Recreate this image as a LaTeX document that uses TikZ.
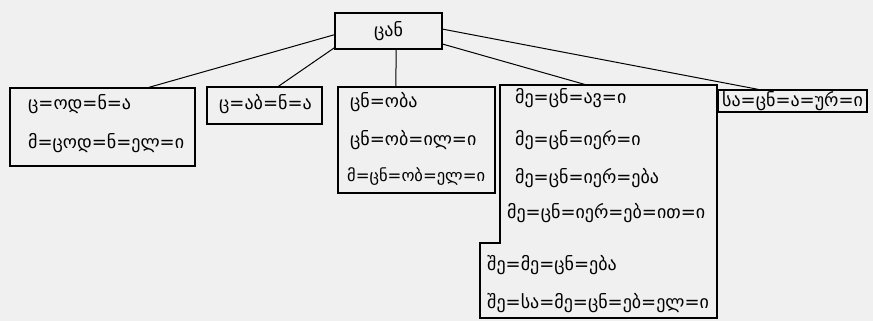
\documentclass[tikz,border=0pt]{standalone}
\usepackage{fontspec}
\setmainfont{DejaVu Sans}
\usetikzlibrary{calc}
\begin{document}
\begin{tikzpicture}[x=1pt,y=-1pt,
  box/.style={draw, line width=1.4pt, inner sep=0pt},
  link/.style={line width=1pt},
  txt/.style={anchor=west, inner sep=0pt, font=\fontsize{18}{21}\selectfont},
  narrowtxt/.style={txt, font=\fontsize{16.5}{20}\selectfont}]
\fill[black!6] (0,0) rectangle (873,321);
\useasboundingbox (0,0) rectangle (873,321);
% root
\node[box, minimum width=107pt, minimum height=36pt, font=\fontsize{18}{21}\selectfont] (root) at (388.5,31) {ცან};
% boxes
\node[box, minimum width=185pt, minimum height=78pt] (b1) at (102.5,127) {};
\node[box, minimum width=115pt, minimum height=37pt] (b2) at (264.5,105.5) {};
\node[box, minimum width=157pt, minimum height=106pt] (b3) at (416.5,140) {};
\node[box, minimum width=149pt, minimum height=22pt] (b5) at (792.5,101) {};
% box 4 outline
\coordinate (b4a) at (500,85);
\coordinate (b4b) at (717,85);
\coordinate (b4c) at (717,318);
\coordinate (b4d) at (480,318);
\coordinate (b4e) at (480,243);
\coordinate (b4f) at (500,243);
\draw[line width=1.4pt] (b4a) -- (b4b) -- (b4c) -- (b4d) -- (b4e) -- (b4f) -- cycle;
% texts
\node[txt] (t11) at (28,104) {ც=ოდ=ნ=ა};
\node[txt] (t12) at (28,143) {მ=ცოდ=ნ=ელ=ი};
\node[txt] (t21) at (219,104) {ც=აბ=ნ=ა};
\node[txt] (t31) at (350,102) {ცნ=ობა};
\node[txt] (t32) at (350,140) {ცნ=ობ=ილ=ი};
\node[narrowtxt] (t33) at (347,177) {მ=ცნ=ობ=ელ=ი};
\node[txt] (t41) at (515,98) {მე=ცნ=ავ=ი};
\node[txt] (t42) at (515,140) {მე=ცნ=იერ=ი};
\node[txt] (t43) at (515,178) {მე=ცნ=იერ=ება};
\node[txt] (t44) at (507,213) {მე=ცნ=იერ=ებ=ით=ი};
\node[txt] (t45) at (487,265) {შე=მე=ცნ=ება};
\node[txt] (t46) at (487,303) {შე=სა=მე=ცნ=ებ=ელ=ი};
\node[txt] (t51) at (722,101) {სა=ცნ=ა=ურ=ი};
% connectors
\draw[link] ($(root.north west)!0.6!(root.south west)$) -- ($(b1.north west)!0.75!(b1.north east)$);
\draw[link] ($(root.north west)!0.95!(root.south west)$) -- ($(b2.north west)!0.62!(b2.north east)$);
\draw[link] ($(root.south west)!0.57!(root.south east)$) -- ($(b3.north west)!0.37!(b3.north east)$);
\draw[link] ($(root.north east)!0.85!(root.south east)$) -- ($(b4a)!0.4!(b4b)$);
\draw[link] ($(root.north east)!0.45!(root.south east)$) -- ($(b5.north west)!0.27!(b5.north east)$);
\end{tikzpicture}
\end{document}
